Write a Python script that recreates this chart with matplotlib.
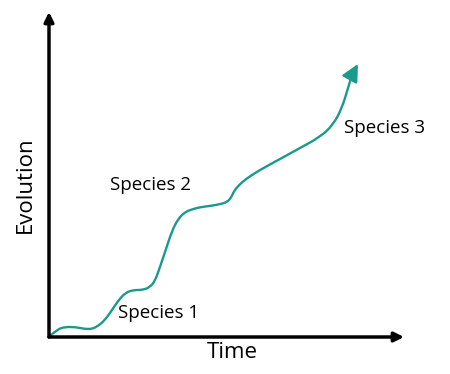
import matplotlib.pyplot as plt
from matplotlib.path import Path
from matplotlib.patches import PathPatch

# curve (time, evolution), units roughly pixels from origin
time = [2, 9, 16, 26, 36, 43, 49, 56, 63, 69, 76, 84, 94, 101, 106, 111, 117,
        123, 129, 136, 144, 152, 161, 172, 178, 182, 185, 190, 197, 209, 231,
        251, 271, 284, 293, 299, 303]
evolution = [2, 8, 10, 10, 8, 8, 11, 17, 27, 36, 44, 47, 47, 50, 56, 70, 88,
             106, 118, 125, 128, 130, 131, 133, 135, 139, 146, 152, 158, 166, 178,
             189, 200, 212, 229, 249, 262]
arrow_tip = (309, 273)

labels = ['Species 1', 'Species 2', 'Species 3']
label_pos = [(69, 24), (61, 152), (295, 209)]

teal = '#1b9a8b'

fig = plt.figure(figsize=(4.5, 3.74), dpi=100)
ax = fig.add_axes([49/450, 37/374, 355/450, 325/374])
ax.set_xlim(0, 355)
ax.set_ylim(0, 325)
ax.axis('off')

# smooth path: read points used as quadratic bezier controls
pts = list(zip(time, evolution))
verts = [pts[0]]
codes = [Path.MOVETO]
for i in range(1, len(pts) - 1):
    mid = ((pts[i][0] + pts[i+1][0]) / 2, (pts[i][1] + pts[i+1][1]) / 2)
    verts += [pts[i], mid]
    codes += [Path.CURVE3, Path.CURVE3]
verts.append(pts[-1])
codes.append(Path.LINETO)
ax.add_patch(PathPatch(Path(verts, codes), fill=False, edgecolor=teal, lw=1.7,
                       capstyle='round', joinstyle='round'))

ax.annotate('', xy=arrow_tip, xytext=pts[-1],
            arrowprops=dict(arrowstyle='-|>', color=teal, lw=1.7, mutation_scale=26,
                            shrinkA=0, shrinkB=0))

# axes with arrow heads
ax.annotate('', xy=(355, 0), xytext=(0, 0),
            arrowprops=dict(arrowstyle='-|>', color='black', lw=2.5, mutation_scale=14,
                            shrinkA=0, shrinkB=0))
ax.annotate('', xy=(0, 325), xytext=(0, 0),
            arrowprops=dict(arrowstyle='-|>', color='black', lw=2.5, mutation_scale=14,
                            shrinkA=0, shrinkB=0))

for lab, (x, y) in zip(labels, label_pos):
    ax.text(x, y, lab, fontsize=13.5, family='Open Sans', va='center', ha='left')

fig.text(232/450, 1 - 353/374, 'Time', fontsize=16, family='Open Sans', ha='center', va='center')
fig.text(25/450, 1 - 185/374, 'Evolution', fontsize=16, family='Open Sans', ha='center',
         va='center', rotation=90)

fig.savefig('out.png', dpi=100)
